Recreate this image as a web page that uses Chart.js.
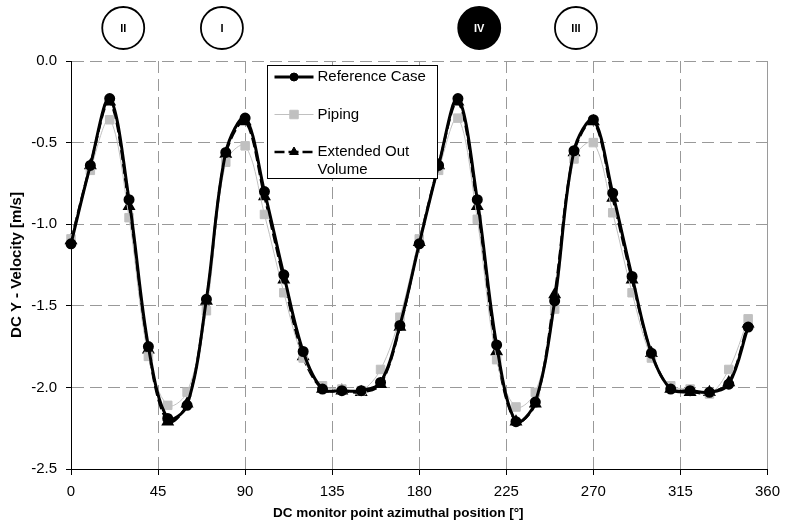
<!DOCTYPE html>
<html>
<head>
<meta charset="utf-8">
<script src="https://cdn.jsdelivr.net/npm/chart.js@4.4.0/dist/chart.umd.min.js"></script>
<style>
  html, body { margin: 0; padding: 0; background: #fff; }
  canvas { display: block; }
</style>
</head>
<body>
<canvas id="velocityChart" width="788" height="523"></canvas>
<script>
// DC monitor points, every 10 degrees
const positions = [0, 10, 20, 30, 40, 50, 60, 70, 80, 90, 100, 110, 120, 130, 140, 150, 160, 170,
                   180, 190, 200, 210, 220, 230, 240, 250, 260, 270, 280, 290, 300, 310, 320, 330, 340, 350];

const referenceCase = [-1.12, -0.64, -0.23, -0.85, -1.75, -2.19, -2.11, -1.46, -0.56, -0.35, -0.80, -1.31,
                       -1.78, -2.01, -2.02, -2.02, -1.97, -1.62, -1.12, -0.64, -0.23, -0.85, -1.74, -2.21,
                       -2.09, -1.47, -0.55, -0.36, -0.81, -1.32, -1.79, -2.01, -2.02, -2.03, -1.98, -1.63];

const piping = [-1.09, -0.67, -0.36, -0.96, -1.81, -2.11, -2.03, -1.53, -0.62, -0.52, -0.94, -1.42,
                -1.82, -1.99, -2.01, -2.02, -1.89, -1.57, -1.09, -0.67, -0.35, -0.97, -1.83, -2.12,
                -2.03, -1.52, -0.60, -0.50, -0.93, -1.42, -1.82, -1.99, -2.01, -2.04, -1.89, -1.58];

const extendedOutVolume = [-1.10, -0.64, -0.25, -0.89, -1.77, -2.21, -2.10, -1.47, -0.57, -0.37, -0.83, -1.34,
                           -1.81, -2.01, -2.02, -2.03, -1.98, -1.63, -1.11, -0.64, -0.25, -0.89, -1.78, -2.21,
                           -2.10, -1.43, -0.56, -0.37, -0.84, -1.34, -1.79, -2.01, -2.03, -2.03, -1.97, -1.61];

const seriesNames = ['Reference Case', 'Piping', 'Extended Out Volume'];
const xTitle = 'DC monitor point azimuthal position [°]';
const yTitle = 'DC Y - Velocity [m/s]';

// loop markers above the plot
const loopLabels = ['II', 'I', 'IV', 'III'];
const loopPositions = [27, 78, 211, 261];
const loopActive = [false, false, true, false];

const FONT = '"Liberation Sans", Arial, Helvetica, sans-serif';
Chart.defaults.font.family = FONT;
Chart.defaults.color = '#000';

function toPoints(values) {
    return values.map((v, i) => ({ x: positions[i], y: v }));
}

const overlayPlugin = {
    id: 'overlay',
    afterDraw(chart) {
        const { ctx, chartArea } = chart;
        const xScale = chart.scales.x;
        ctx.save();

        // right frame
        ctx.strokeStyle = '#9a9a9a';
        ctx.lineWidth = 1;
        ctx.beginPath();
        ctx.moveTo(Math.round(chartArea.right) + 0.5, chartArea.top);
        ctx.lineTo(Math.round(chartArea.right) + 0.5, chartArea.bottom);
        ctx.stroke();

        // x axis title, sits a bit left of the plot centre
        ctx.fillStyle = '#000';
        ctx.font = 'bold 13.5px ' + FONT;
        ctx.textAlign = 'center';
        ctx.textBaseline = 'middle';
        ctx.fillText(xTitle, (chartArea.left + chartArea.right) / 2 - 21, chartArea.bottom + 44);

        // circled loop numbers
        loopLabels.forEach((label, i) => {
            const cx = xScale.getPixelForValue(loopPositions[i]);
            const cy = chartArea.top - 33;
            ctx.beginPath();
            ctx.arc(cx, cy, 21, 0, Math.PI * 2);
            ctx.fillStyle = loopActive[i] ? '#000' : '#fff';
            ctx.fill();
            ctx.lineWidth = 1.8;
            ctx.strokeStyle = '#000';
            ctx.stroke();
            ctx.fillStyle = loopActive[i] ? '#fff' : '#000';
            ctx.font = 'bold 11px ' + FONT;
            ctx.fillText(label, cx, cy + 1);
        });

        // legend box
        const bx = chartArea.left + 196.5, by = chartArea.top + 4.5, bw = 170, bh = 113;
        ctx.fillStyle = '#fff';
        ctx.fillRect(bx, by, bw, bh);
        ctx.strokeStyle = '#000';
        ctx.lineWidth = 1;
        ctx.strokeRect(bx, by, bw, bh);

        ctx.font = '15px ' + FONT;
        ctx.textAlign = 'left';
        ctx.textBaseline = 'middle';
        let rowY = by + 11.5;
        chart.data.datasets.forEach(ds => {
            // line sample
            ctx.save();
            ctx.strokeStyle = ds.borderColor;
            ctx.lineWidth = ds.borderWidth;
            ctx.setLineDash(ds.borderDash || []);
            ctx.beginPath();
            ctx.moveTo(bx + 7, rowY);
            ctx.lineTo(bx + 46, rowY);
            ctx.stroke();
            ctx.restore();
            ctx.fillStyle = ds.pointBackgroundColor;
            ctx.strokeStyle = ds.pointBorderColor;
            Chart.helpers.drawPoint(ctx, {
                pointStyle: ds.pointStyle, radius: ds.pointRadius, rotation: 0, borderWidth: 1
            }, bx + 26.5, rowY);

            // wrap label text
            const words = ds.label.split(' ');
            const lines = [];
            let line = '';
            words.forEach(w => {
                const test = line ? line + ' ' + w : w;
                if (ctx.measureText(test).width > 118 && line) { lines.push(line); line = w; }
                else line = test;
            });
            lines.push(line);
            ctx.fillStyle = '#000';
            lines.forEach((t, k) => ctx.fillText(t, bx + 50, rowY + k * 17.5));
            rowY += 37.5;
        });
        ctx.restore();
    }
};

new Chart(document.getElementById('velocityChart'), {
    type: 'line',
    data: {
        datasets: [
            {
                label: seriesNames[0],
                data: toPoints(referenceCase),
                borderColor: '#000',
                borderWidth: 3,
                pointStyle: 'circle',
                pointRadius: 4,
                pointBackgroundColor: '#000',
                pointBorderColor: '#000',
                tension: 0.35,
                clip: 8
            },
            {
                label: seriesNames[1],
                data: toPoints(piping),
                borderColor: '#c0c0c0',
                borderWidth: 1,
                pointStyle: 'rect',
                pointRadius: 6,
                pointBackgroundColor: '#c0c0c0',
                pointBorderColor: '#c0c0c0',
                tension: 0.35,
                clip: 8
            },
            {
                label: seriesNames[2],
                data: toPoints(extendedOutVolume),
                borderColor: '#000',
                borderWidth: 2.5,
                borderDash: [10, 4],
                pointStyle: 'triangle',
                pointRadius: 5,
                pointBackgroundColor: '#000',
                pointBorderColor: '#000',
                tension: 0.35,
                clip: 8
            }
        ]
    },
    options: {
        responsive: false,
        animation: false,
        layout: { padding: { top: 61, right: 17, bottom: 0, left: 0 } },
        plugins: {
            legend: { display: false },
            tooltip: { enabled: false }
        },
        scales: {
            x: {
                type: 'linear',
                min: 0,
                max: 360,
                afterFit: s => { s.height = 54; },
                ticks: { stepSize: 45, padding: 8, font: { size: 15 }, color: '#000' },
                grid: { color: '#999', tickColor: '#000', tickLength: 6, lineWidth: 1 },
                border: { display: true, color: '#000', width: 1, dash: [12, 6] }
            },
            y: {
                type: 'linear',
                min: -2.5,
                max: 0,
                afterFit: s => { s.width = 71; },
                ticks: {
                    stepSize: 0.5,
                    padding: 9,
                    font: { size: 15 },
                    color: '#000',
                    callback: v => v.toFixed(1)
                },
                grid: { color: '#999', tickColor: '#000', tickLength: 5, lineWidth: 1 },
                border: { display: true, color: '#000', width: 1, dash: [12, 6] },
                title: {
                    display: true,
                    text: yTitle,
                    font: { size: 15, weight: 'bold' },
                    padding: { top: 8, bottom: 0 }
                }
            }
        }
    },
    plugins: [overlayPlugin]
});
</script>
</body>
</html>
